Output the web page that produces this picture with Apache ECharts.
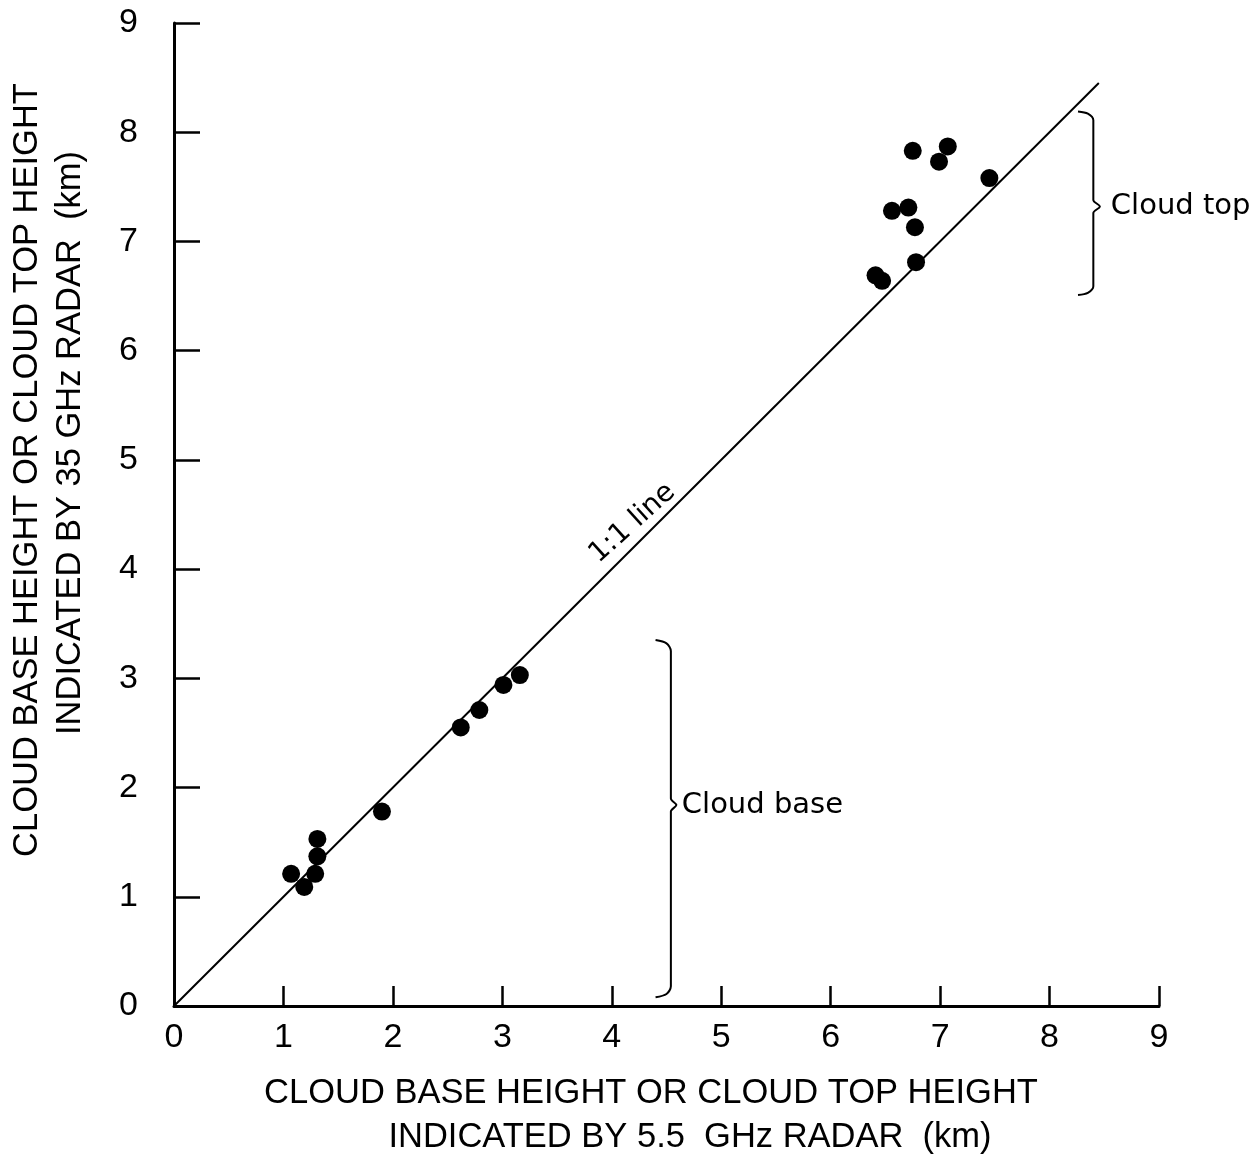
<!DOCTYPE html>
<html>
<head>
<meta charset="utf-8">
<script src="https://cdn.jsdelivr.net/npm/echarts@6/dist/echarts.min.js"></script>
<style>
html,body{margin:0;padding:0;background:#fff;}
#main{width:1258px;height:1155px;}
</style>
</head>
<body>
<div id="main"></div>
<script>
// Tick labels
var xTicks = [0,1,2,3,4,5,6,7,8,9];
var yTicks = [0,1,2,3,4,5,6,7,8,9];

// Cloud base points [x (5.5 GHz), y (35 GHz)] in km
var cloudBase = [
  [1.07,1.21],[1.19,1.09],[1.29,1.21],[1.31,1.37],[1.31,1.53],
  [1.90,1.78],[2.62,2.55],[2.79,2.71],[3.01,2.94],[3.16,3.03]
];
// Cloud top points
var cloudTop = [
  [6.41,6.69],[6.47,6.64],[6.56,7.28],[6.71,7.31],[6.75,7.83],
  [6.77,7.13],[6.78,6.81],[6.99,7.73],[7.07,7.87],[7.45,7.58]
];
// 1:1 reference line
var oneToOne = [[0,0],[8.45,8.45]];

// Brace annotations (data units)
var cloudTopBrace = [[8.26,8.19],[8.35,8.17],[8.40,8.11],[8.40,7.38],[8.46,7.32],[8.40,7.26],[8.40,6.59],[8.35,6.53],[8.26,6.51]];
var cloudBaseBrace = [[4.40,3.35],[4.50,3.32],[4.54,3.25],[4.54,1.90],[4.59,1.84],[4.54,1.78],[4.54,0.18],[4.50,0.11],[4.40,0.08]];

// Annotation text anchors
var labelTop = [[8.56,7.32,'Cloud top']];
var labelBase = [[4.64,1.84,'Cloud base']];
var labelLine = [[4.19,4.42,'1:1 line']];

var chart = echarts.init(document.getElementById('main'));
var axisFont = 'Liberation Sans, Arial, Helvetica, sans-serif';
var annFont = 'DejaVu Sans, sans-serif';

function annLabel(size, extra){
  var o = {show:true,color:'#000',opacity:1,fontSize:size,fontFamily:annFont,
    formatter:function(p){return p.data[2];}};
  for (var k in extra) o[k] = extra[k];
  return o;
}

chart.setOption({
  animation:false,
  backgroundColor:'#fff',
  grid:{left:174,right:99,top:23,bottom:149},
  xAxis:{
    type:'value',min:0,max:9,interval:1,
    axisLine:{show:true,onZero:false,lineStyle:{color:'#000',width:3}},
    axisTick:{show:true,inside:true,length:20,lineStyle:{color:'#000',width:2.5}},
    axisLabel:{color:'#000',fontSize:34,fontFamily:axisFont,margin:15,
      formatter:function(v){return xTicks.indexOf(v)>=0?String(v):'';}},
    splitLine:{show:false}
  },
  yAxis:{
    type:'value',min:0,max:9,interval:1,
    axisLine:{show:true,onZero:false,lineStyle:{color:'#000',width:3}},
    axisTick:{show:true,inside:true,length:26,lineStyle:{color:'#000',width:2.5}},
    axisLabel:{color:'#000',fontSize:34,fontFamily:axisFont,margin:36,
      formatter:function(v){return yTicks.indexOf(v)>=0?String(v):'';}},
    splitLine:{show:false}
  },
  graphic:[
    {type:'text',x:651,y:1093,style:{text:'CLOUD BASE HEIGHT OR CLOUD TOP HEIGHT',fill:'#000',font:'34.5px '+axisFont,textAlign:'center',textVerticalAlign:'middle',align:'center',verticalAlign:'middle'}},
    {type:'text',x:690,y:1137,style:{text:'INDICATED BY 5.5  GHz RADAR  (km)',fill:'#000',font:'34.5px '+axisFont,textAlign:'center',textVerticalAlign:'middle',align:'center',verticalAlign:'middle'}},
    {type:'text',x:27,y:470,rotation:Math.PI/2,style:{text:'CLOUD BASE HEIGHT OR CLOUD TOP HEIGHT',fill:'#000',font:'34.5px '+axisFont,textAlign:'center',textVerticalAlign:'middle',align:'center',verticalAlign:'middle'}},
    {type:'text',x:70,y:443,rotation:Math.PI/2,style:{text:'INDICATED BY 35 GHz RADAR  (km)',fill:'#000',font:'34.5px '+axisFont,textAlign:'center',textVerticalAlign:'middle',align:'center',verticalAlign:'middle'}}
  ],
  series:[
    {type:'line',data:oneToOne,symbol:'none',lineStyle:{color:'#000',width:2,opacity:1},z:2},
    {type:'line',data:cloudTopBrace,symbol:'none',smooth:0.3,lineStyle:{color:'#000',width:2,opacity:1},z:2},
    {type:'line',data:cloudBaseBrace,symbol:'none',smooth:0.3,lineStyle:{color:'#000',width:2,opacity:1},z:2},
    {type:'scatter',data:cloudBase,symbol:'circle',symbolSize:18,itemStyle:{color:'#000',opacity:1},z:3},
    {type:'scatter',data:cloudTop,symbol:'circle',symbolSize:18,itemStyle:{color:'#000',opacity:1},z:3},
    {type:'scatter',data:labelTop,symbolSize:0,silent:true,itemStyle:{opacity:1},
      label:annLabel(29,{position:'right',distance:0})},
    {type:'scatter',data:labelBase,symbolSize:0,silent:true,itemStyle:{opacity:1},
      label:annLabel(29,{position:'right',distance:0})},
    {type:'scatter',data:labelLine,symbolSize:0,silent:true,itemStyle:{opacity:1},
      label:annLabel(28,{position:'inside',rotate:42})}
  ]
});
</script>
</body>
</html>
